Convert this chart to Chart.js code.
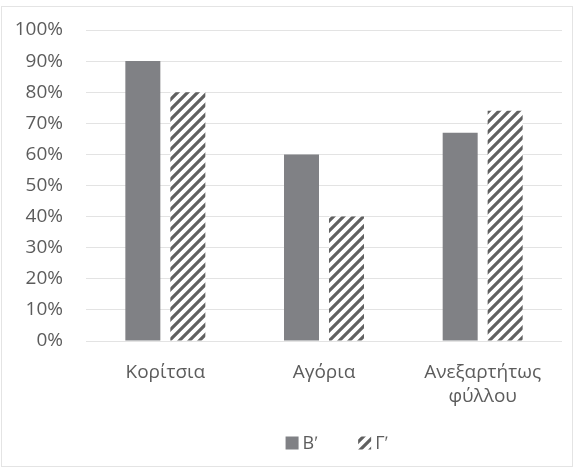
<!DOCTYPE html>
<html>
<head>
<meta charset="utf-8">
<script src="https://cdn.jsdelivr.net/npm/chart.js@4/dist/chart.umd.min.js"></script>
<style>
  html, body { margin: 0; padding: 0; background: #fff; }
  #wrap { width: 574px; height: 469px; position: relative; }
</style>
</head>
<body>
<div id="wrap"><canvas id="c" width="574" height="469"></canvas></div>
<script>
// Categories and series (percent)
const categories = ['Κορίτσια', 'Αγόρια', ['Ανεξαρτήτως', 'φύλλου']];
const seriesNames = ['Βʹ', 'Γʹ'];
const valuesB = [90, 60, 67];
const valuesG = [80, 40, 74];
const yTicks = [0, 10, 20, 30, 40, 50, 60, 70, 80, 90, 100];

const TEXT = '#5c5c5c';
const FONT = 'Open Sans';

// Diagonal hatch fill for the second series
function makeHatch() {
  const n = 10;
  const c = document.createElement('canvas');
  c.width = n; c.height = n;
  const g = c.getContext('2d');
  g.fillStyle = '#ffffff';
  g.fillRect(0, 0, n, n);
  g.strokeStyle = '#606060';
  g.lineWidth = 3.2;
  g.lineCap = 'square';
  g.beginPath();
  g.moveTo(-1, n + 1); g.lineTo(n + 1, -1);
  g.moveTo(-n / 2 - 1, n / 2 + 1); g.lineTo(n / 2 + 1, -n / 2 - 1);
  g.moveTo(n / 2 - 1, n * 1.5 + 1); g.lineTo(n * 1.5 + 1, n / 2 - 1);
  g.stroke();
  return g.createPattern(c, 'repeat');
}
const ctx = document.getElementById('c').getContext('2d');
const hatch = makeHatch();

// Light frame around the whole chart
const framePlugin = {
  id: 'frame',
  beforeDraw(chart) {
    const g = chart.ctx;
    g.save();
    g.fillStyle = '#ffffff';
    g.fillRect(0, 0, chart.width, chart.height);
    g.strokeStyle = '#e4e4e4';
    g.lineWidth = 1;
    g.strokeRect(1.5, 6.5, chart.width - 3, chart.height - 9);
    g.restore();
  }
};

// Legend row under the category labels
const legendPlugin = {
  id: 'rowLegend',
  afterDraw(chart) {
    const g = chart.ctx;
    const area = chart.chartArea;
    const box = 13, gapText = 4, gapItem = 40;
    g.save();
    g.font = '18px "' + FONT + '"';
    g.textBaseline = 'middle';
    const items = chart.data.datasets.map(ds => ({
      label: ds.label, fill: ds.backgroundColor, w: g.measureText(ds.label).width
    }));
    const total = items.reduce((s, it) => s + box + gapText + it.w, 0) + gapItem * (items.length - 1);
    let x = (area.left + area.right) / 2 + 13 - total / 2;
    const yMid = area.bottom + 102;
    items.forEach(it => {
      g.fillStyle = it.fill;
      g.fillRect(x, yMid - box / 2, box, box);
      x += box + gapText;
      g.fillStyle = TEXT;
      g.fillText(it.label, x, yMid + 1);
      x += it.w + gapItem;
    });
    g.restore();
  }
};

new Chart(ctx, {
  type: 'bar',
  data: {
    labels: categories,
    datasets: [
      { label: seriesNames[0], data: valuesB, backgroundColor: '#808185', borderWidth: 0 },
      { label: seriesNames[1], data: valuesG, backgroundColor: hatch, borderWidth: 0 }
    ]
  },
  options: {
    responsive: false,
    animation: false,
    devicePixelRatio: 1,
    layout: { padding: { top: 30, right: 12, bottom: 0, left: 0 } },
    categoryPercentage: 0.567,
    barPercentage: 0.778,
    plugins: {
      legend: { display: false },
      tooltip: { enabled: false }
    },
    scales: {
      x: {
        grid: { display: false, drawTicks: false },
        border: { display: false },
        ticks: {
          color: TEXT,
          font: { family: FONT, size: 19, lineHeight: 1.3 },
          padding: 19,
          maxRotation: 0,
          autoSkip: false
        },
        afterFit(scale) { scale.height = 128; }
      },
      y: {
        min: 0, max: 100,
        afterBuildTicks(scale) { scale.ticks = yTicks.map(v => ({ value: v })); },
        grid: { color: '#e3e3e3', lineWidth: 1, drawTicks: false },
        border: { display: false },
        ticks: {
          color: TEXT,
          font: { family: FONT, size: 19 },
          padding: 23,
          callback: v => v + '%'
        },
        afterFit(scale) {
          scale.width = 86;
          scale.paddingTop = 0;
          scale.paddingBottom = 0;
        }
      }
    }
  },
  plugins: [framePlugin, legendPlugin]
});
</script>
</body>
</html>
